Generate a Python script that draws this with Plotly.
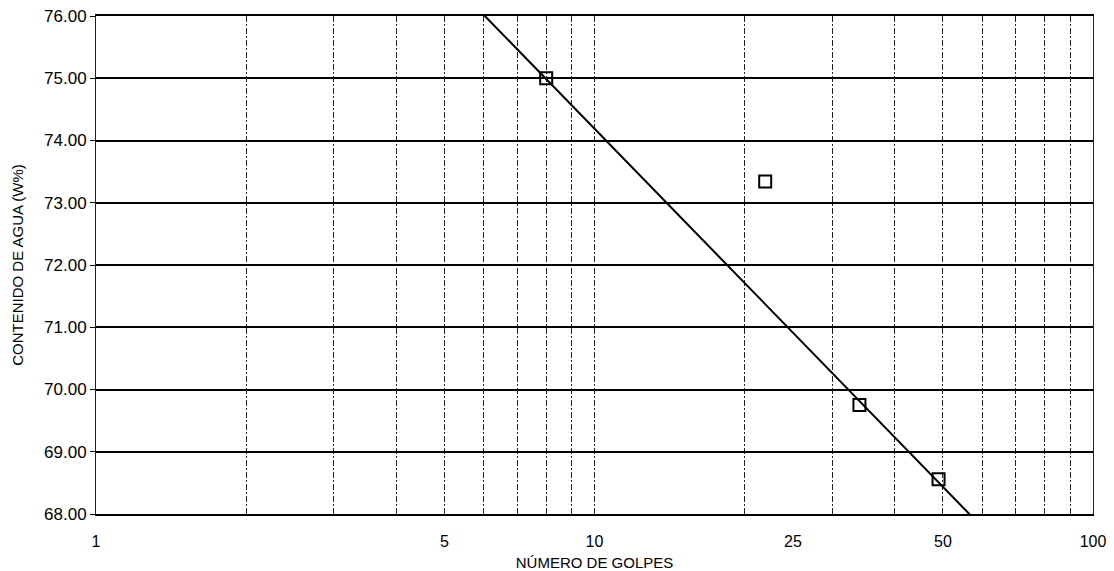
import numpy as np
import plotly.graph_objects as go

# Ensayo de límite líquido (Casagrande): golpes vs contenido de agua
golpes = [8, 22, 34, 49]
humedad = [75.00, 73.34, 69.75, 68.56]

# Puntos usados para la recta de tendencia (el segundo ensayo queda fuera)
indices_ajuste = [0, 2, 3]
# Extensión de la recta de tendencia en número de golpes
tendencia_golpes = [5.8, 58.8]

# Eje X logarítmico: etiquetas y líneas de rejilla
etiquetas_x = [1, 5, 10, 25, 50, 100]
rejilla_x = [2, 3, 4, 5, 6, 7, 8, 9, 10, 20, 30, 40, 50, 60, 70, 80, 90]
# Eje Y
valores_y = [68, 69, 70, 71, 72, 73, 74, 75, 76]

lx = np.log10([golpes[i] for i in indices_ajuste])
ly = np.array([humedad[i] for i in indices_ajuste])
pendiente, ordenada = np.polyfit(lx, ly, 1)
tx = np.array(tendencia_golpes, dtype=float)
ty = ordenada + pendiente * np.log10(tx)

FUENTE = "Liberation Sans, Arial, sans-serif"

fig = go.Figure()
fig.add_trace(go.Scatter(
    x=tx, y=ty, mode="lines",
    line=dict(color="black", width=2),
    hoverinfo="skip", showlegend=False,
))
fig.add_trace(go.Scatter(
    x=golpes, y=humedad, mode="markers",
    marker=dict(symbol="square-open", size=12, color="black",
                line=dict(color="black", width=2)),
    showlegend=False,
))

fig.update_layout(
    width=1114, height=571,
    margin=dict(l=96, r=21, t=16, b=57),
    paper_bgcolor="white", plot_bgcolor="white",
    font=dict(family=FUENTE, color="black"),
    xaxis=dict(
        type="log", range=[0, 2], automargin=False,
        tickmode="array", tickvals=etiquetas_x,
        ticktext=[str(v) for v in etiquetas_x],
        tickfont=dict(size=16),
        showgrid=False, zeroline=False,
        showline=True, linecolor="black", linewidth=1.5, mirror=True,
        ticks="", ticklabelstandoff=12,
        minor=dict(tickmode="array", tickvals=rejilla_x, showgrid=True,
                   gridcolor="#222", gridwidth=1, griddash="6px,2px,2px,2px",
                   ticks=""),
        title=dict(text="NÚMERO DE GOLPES", font=dict(size=15), standoff=10),
    ),
    yaxis=dict(
        range=[68, 76], automargin=False,
        tickmode="array", tickvals=valores_y,
        ticktext=[f"{v:.2f}" for v in valores_y],
        tickfont=dict(size=17),
        showgrid=True, gridcolor="black", gridwidth=1.5,
        zeroline=False,
        showline=True, linecolor="#222", linewidth=1, mirror=True,
        ticks="outside", ticklen=5, tickcolor="black", tickwidth=1,
        title=dict(text="CONTENIDO DE AGUA (W%)", font=dict(size=15), standoff=16),
    ),
)

fig.write_html("out.html")
